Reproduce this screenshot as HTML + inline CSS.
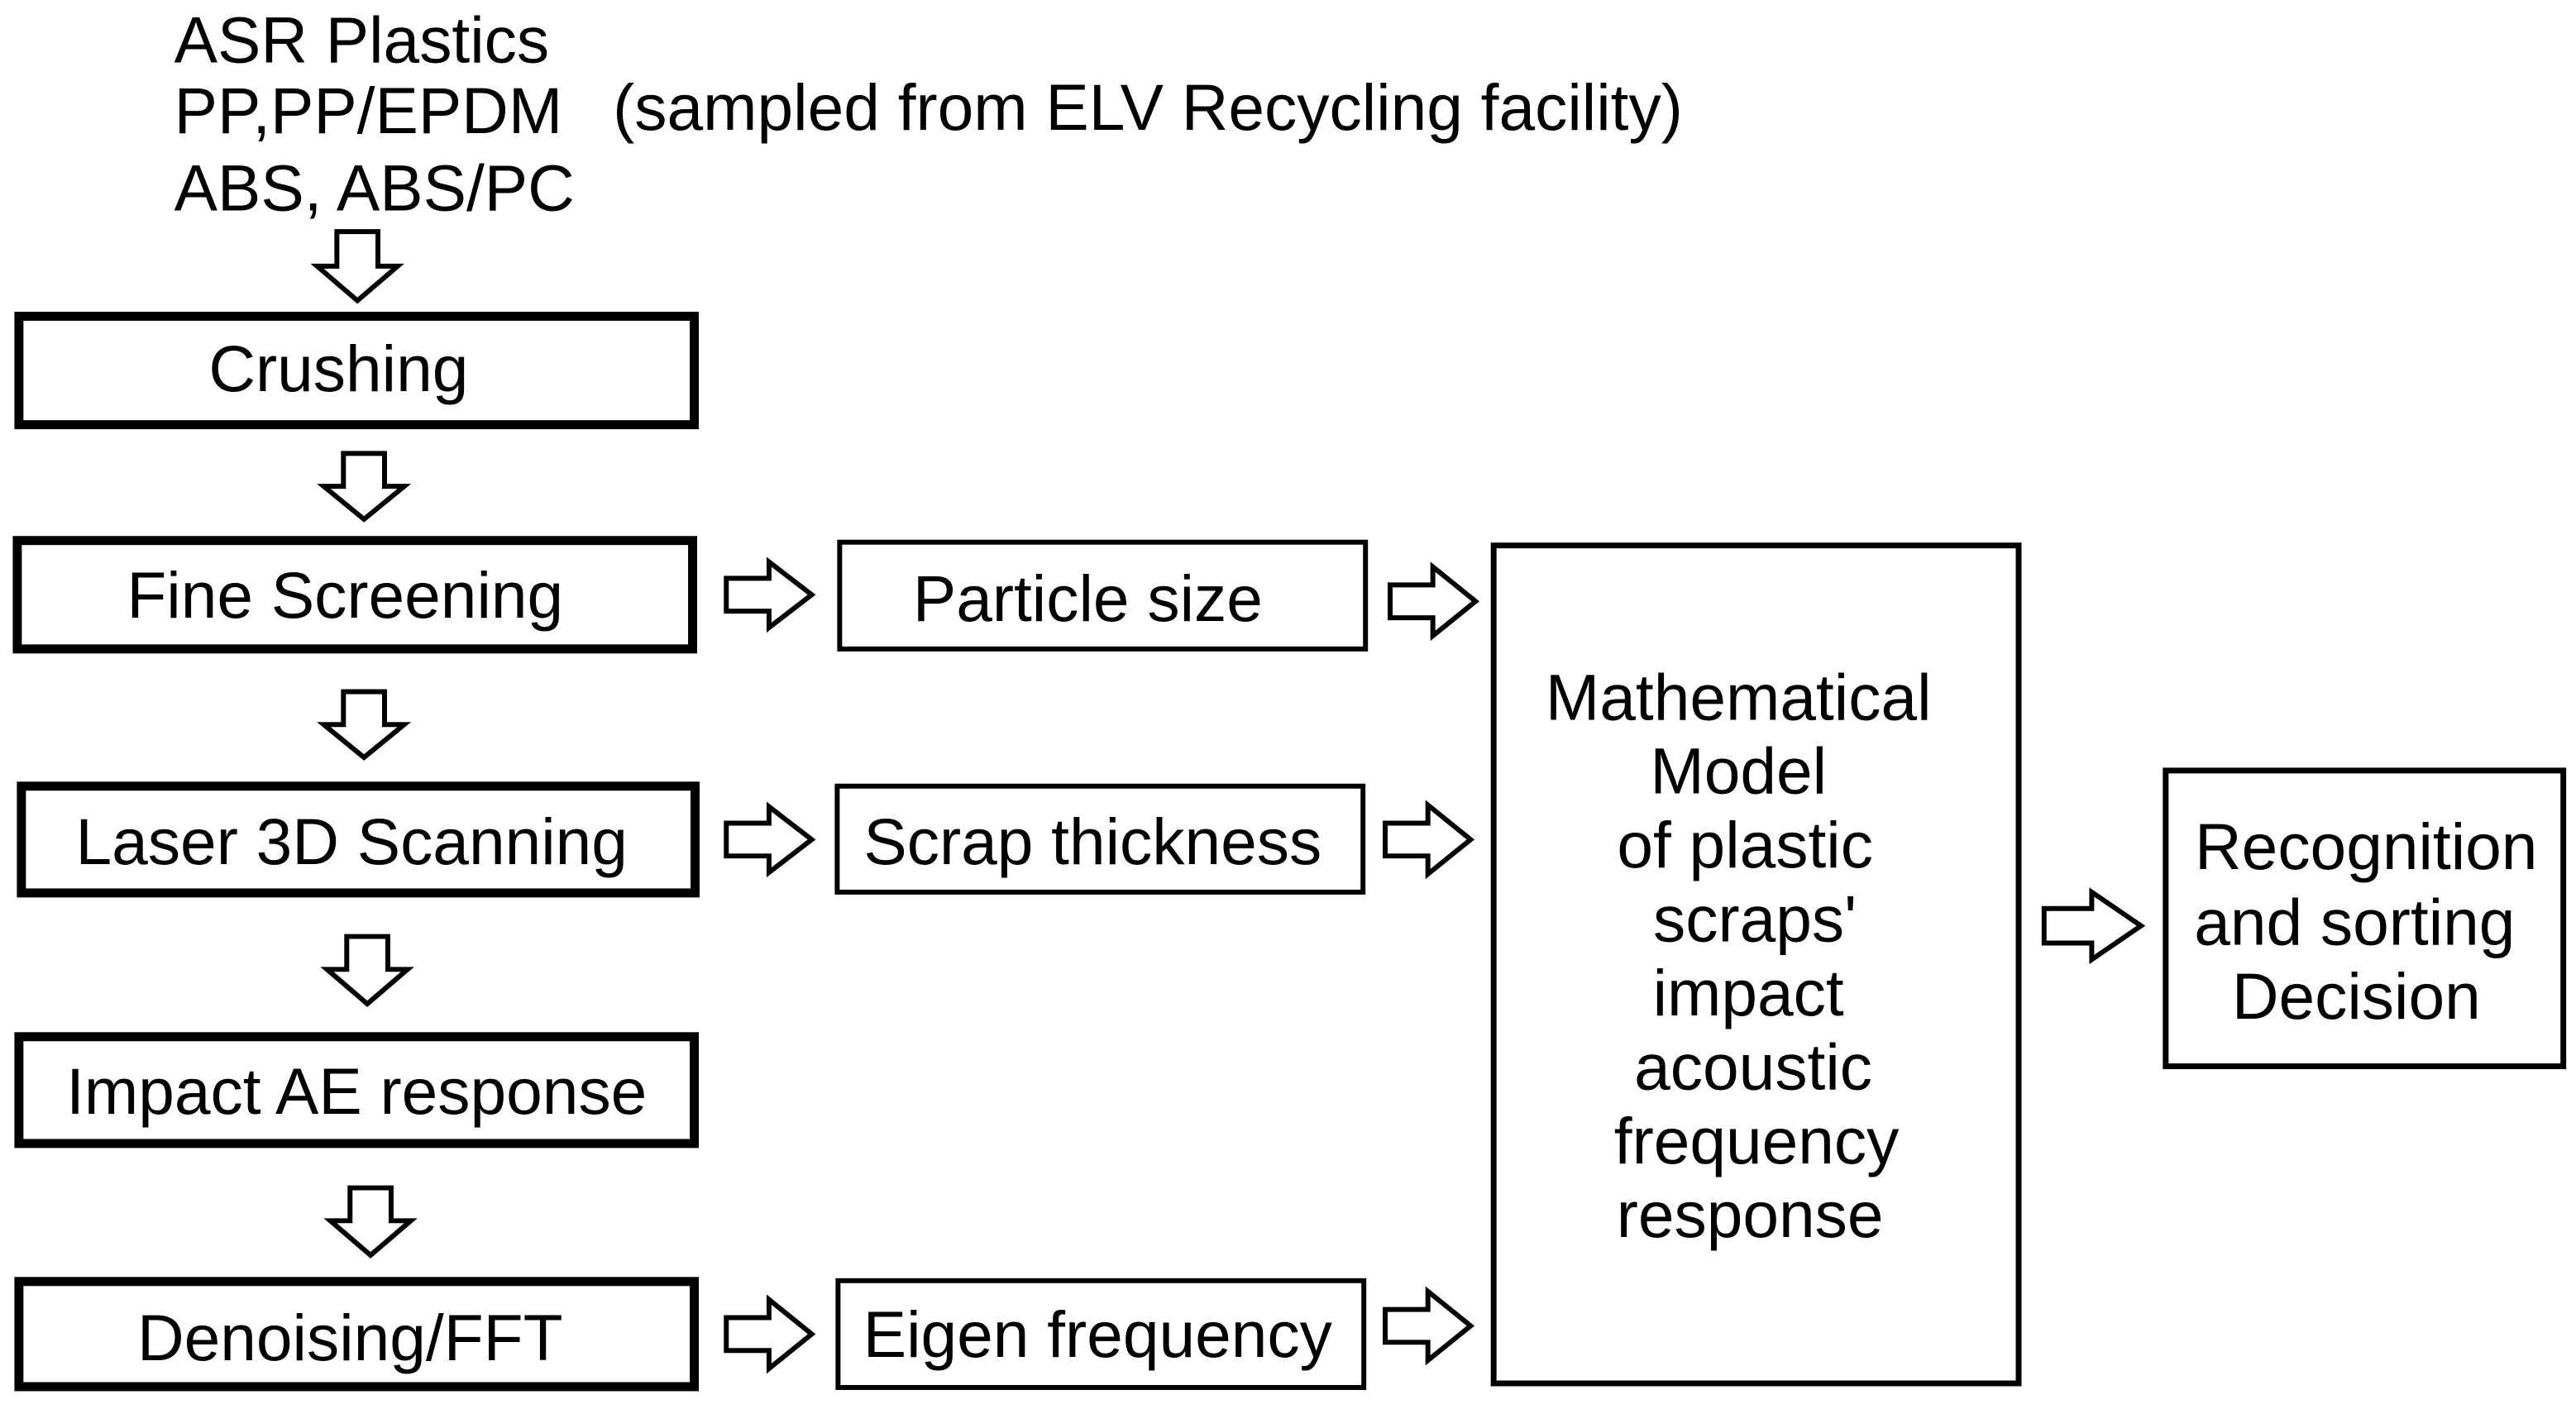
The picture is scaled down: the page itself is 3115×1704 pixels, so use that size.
<!DOCTYPE html>
<html><head><meta charset="utf-8"><style>html,body{margin:0;padding:0;background:#fff}svg{display:block}</style></head>
<body>
<svg width="3115" height="1704" viewBox="0 0 1567.7 857.6" xmlns="http://www.w3.org/2000/svg" font-family="Liberation Sans, Arial, sans-serif" font-size="39.5" fill="#000">
<rect width="1567.7" height="857.6" fill="#fff"/>
<text x="106" y="38">ASR Plastics</text>
<text x="106" y="81">PP,PP/EPDM</text>
<text x="373" y="79">(sampled from ELV Recycling facility)</text>
<text x="106" y="128">ABS, ABS/PC</text>
<g fill="none" stroke="#000">
<rect x="11.5" y="192.5" width="411" height="66" stroke-width="5.5"/>
<rect x="10.5" y="329" width="411" height="66" stroke-width="5.5"/>
<rect x="13" y="478.5" width="410" height="65" stroke-width="5.5"/>
<rect x="11.5" y="631" width="411" height="65" stroke-width="5.5"/>
<rect x="11.5" y="780" width="411" height="64" stroke-width="5.5"/>
<rect x="511" y="330" width="320" height="65" stroke-width="3"/>
<rect x="509.5" y="478.5" width="320" height="64.5" stroke-width="3"/>
<rect x="510" y="779.5" width="320" height="65" stroke-width="3"/>
<rect x="909" y="332" width="319.5" height="510" stroke-width="3.5"/>
<rect x="1318" y="469" width="242" height="180" stroke-width="3.5"/>
<g stroke-width="3" stroke-linejoin="miter">
<polygon points="205,141 230,141 230,162 242,162 217.5,183 193,162 205,162"/>
<polygon points="209,276 234,276 234,296 246,296 221.5,316 197,296 209,296"/>
<polygon points="209,421 234,421 234,441 246,441 221.5,461 197,441 209,441"/>
<polygon points="211,570 236,570 236,590 248,590 223.5,611 199,590 211,590"/>
<polygon points="213,723 238,723 238,743 250,743 225.5,764 201,743 213,743"/>
<polygon points="442,352 468,352 468,342 494,362 468,382 468,372 442,372"/>
<polygon points="442,501 468,501 468,491 494,511 468,531 468,521 442,521"/>
<polygon points="442,802 468,802 468,791 494,812 468,833 468,822 442,822"/>
<polygon points="846,356 872,356 872,345 898,366 872,387 872,376 846,376"/>
<polygon points="843,501 869,501 869,490 895,511 869,532 869,521 843,521"/>
<polygon points="843,797 869,797 869,786 895,807 869,828 869,817 843,817"/>
<polygon points="1244,553 1273,553 1273,543 1303,563.5 1273,584 1273,574 1244,574"/>
</g>
</g>
<g text-anchor="middle">
<text x="206" y="238">Crushing</text>
<text x="210" y="376">Fine Screening</text>
<text x="214" y="526">Laser 3D Scanning</text>
<text x="217" y="678">Impact AE response</text>
<text x="213" y="828">Denoising/FFT</text>
<text x="662" y="378">Particle size</text>
<text x="665" y="526">Scrap thickness</text>
<text x="668" y="826">Eigen frequency</text>
<text x="1058" y="438">Mathematical</text>
<text x="1058" y="483">Model</text>
<text x="1062" y="528">of plastic</text>
<text x="1068" y="573">scraps'</text>
<text x="1064" y="618">impact</text>
<text x="1067" y="663">acoustic</text>
<text x="1069" y="708">frequency</text>
<text x="1065" y="753">response</text>
<text x="1440" y="529">Recognition</text>
<text x="1433" y="575">and sorting</text>
<text x="1434" y="620">Decision</text>
</g>
</svg>
</body></html>
